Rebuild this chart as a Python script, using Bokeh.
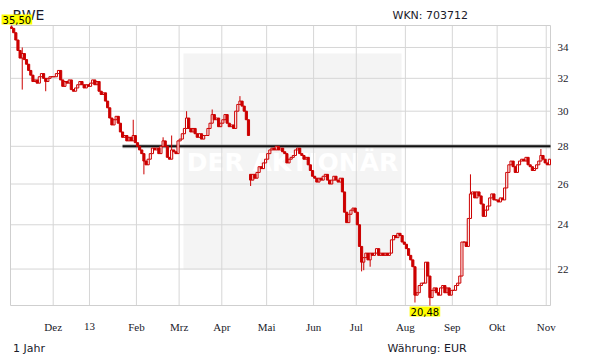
import math
import pandas as pd
from bokeh.plotting import figure
from bokeh.models import Range1d, Label, BoxAnnotation, ColumnDataSource
from bokeh.embed import file_html
from bokeh.resources import INLINE

# ---- data (daily closes, EUR) ----
close_nov12 = [35.3, 35.0, 34.5, 33.8, 33.3, 33.6, 33.2, 32.9, 32.5, 32.2,
               31.8, 31.9, 31.7, 32.1, 32.3, 32.0, 31.8, 32.0, 32.1, 32.1]
close_dec12 = [32.1, 32.3, 32.5, 31.9, 31.5, 31.8, 31.7, 31.9, 31.3, 31.2,
               31.4, 31.6, 31.8, 31.6, 31.4, 31.6, 31.5]
close_jan13 = [31.7, 31.9, 31.6, 31.8, 31.2, 31.0, 31.1, 30.6, 30.2, 29.6, 29.2,
               29.5, 29.7, 29.3, 28.8, 28.5, 28.6, 28.3, 28.5, 28.3, 28.6, 28.2]
close_feb13 = [28.0, 27.8, 27.6, 27.2, 27.0, 27.3, 27.6, 27.9, 27.8, 27.9,
               27.6, 28.0, 28.3, 28.0, 27.4, 27.3, 27.8, 27.7, 27.6, 28.3]
close_mar13 = [28.4, 28.7, 29.0, 29.6, 29.0, 28.8, 29.0, 28.7, 28.5, 28.7,
               28.4, 28.6, 28.6, 29.0, 29.3, 29.8, 29.5, 29.6, 29.1, 29.3]
close_apr13 = [29.5, 29.8, 29.3, 29.1, 29.2, 29.0, 30.0, 30.4, 30.6, 30.3, 30.0,
               29.5, 28.6, 26.2, 26.5, 26.3, 26.6, 26.9, 26.8, 27.1, 27.3]
close_may13 = [27.6, 27.8, 27.9, 27.8, 28.0, 27.8, 27.9, 27.7, 27.6, 27.1, 27.3,
               27.4, 27.5, 27.8, 27.9, 27.6, 27.5, 27.3, 27.4, 27.0, 26.7, 26.4]
close_jun13 = [26.3, 26.1, 26.3, 26.2, 26.4, 26.5, 26.2, 26.0, 26.2, 26.4,
               26.2, 26.1, 26.3, 25.6, 24.6, 24.1, 24.5, 24.7, 24.8, 24.6]
close_jul13 = [24.0, 23.0, 22.3, 22.5, 22.7, 22.4, 22.7, 22.6, 22.7, 22.9, 22.6, 22.7,
               22.6, 22.7, 22.6, 22.7, 23.3, 23.5, 23.4, 23.6, 23.5, 23.2, 23.1]
close_aug13 = [22.9, 22.6, 22.4, 22.1, 20.9, 21.0, 21.3, 21.4, 21.4, 22.3, 21.7,
               20.8, 21.1, 21.2, 21.0, 20.9, 21.2, 21.3, 21.0, 21.2, 20.9, 21.1]
close_sep13 = [21.1, 21.3, 21.4, 21.7, 23.2, 23.2, 23.0, 24.3, 25.5, 25.6, 25.3,
               25.6, 25.4, 25.0, 24.4, 24.7, 24.9, 25.3, 25.5, 25.2, 25.2]
close_oct13 = [25.1, 25.3, 25.2, 25.8, 26.6, 27.0, 27.2, 26.9, 26.6, 27.0, 27.2, 27.3,
               27.2, 27.4, 27.0, 26.9, 26.7, 26.8, 27.0, 27.2, 27.5, 27.3, 27.1]
close_nov13 = [27.0, 27.3]

first_open = 35.4
gap_open_idx = [112]          # ex-dividend gap (open not at previous close)
gap_open_val = [26.5]
spike_high_idx = [0, 5, 57, 71, 75, 82, 94, 107, 215, 248]
spike_high_val = [35.50, 34.0, 29.5, 28.5, 28.6, 30.0, 30.1, 30.9, 26.5, 27.85]
spike_low_idx = [5, 16, 62, 112, 164, 165, 168, 189, 196]
spike_low_val = [31.3, 31.2, 26.5, 25.9, 21.9, 21.95, 22.1, 20.6, 20.48]

month_labels = ["Dez", "13", "Feb", "Mrz", "Apr", "Mai", "Jun", "Jul",
                "Aug", "Sep", "Okt", "Nov"]
y_ticks = [22, 24, 26, 28, 30, 32, 34]
resistance_level = 28.0
resistance_start = 52
holidays = ["2012-12-24", "2012-12-25", "2012-12-26", "2012-12-31",
            "2013-01-01", "2013-03-29", "2013-04-01", "2013-05-01"]

# ---- build OHLC ----
closes = (close_nov12 + close_dec12 + close_jan13 + close_feb13 + close_mar13 +
          close_apr13 + close_may13 + close_jun13 + close_jul13 + close_aug13 +
          close_sep13 + close_oct13 + close_nov13)
days = pd.bdate_range("2012-11-05", "2013-11-04")
days = days[~days.isin(pd.to_datetime(holidays))]
n = len(closes)
idx = list(range(n))
opens = [first_open] + closes[:-1]
for i, v in zip(gap_open_idx, gap_open_val):
    opens[i] = v
highs = [max(o, c) for o, c in zip(opens, closes)]
lows = [min(o, c) for o, c in zip(opens, closes)]
for i, v in zip(spike_high_idx, spike_high_val):
    highs[i] = max(highs[i], v)
for i, v in zip(spike_low_idx, spike_low_val):
    lows[i] = min(lows[i], v)

top = [max(o, c) for o, c in zip(opens, closes)]
bot = [min(o, c) for o, c in zip(opens, closes)]
up = [c >= o for o, c in zip(opens, closes)]

RED = "#cc0000"
TXT = "#1a1a2a"
src_up = ColumnDataSource(dict(x=[i for i in idx if up[i]], top=[top[i] for i in idx if up[i]],
                               bot=[bot[i] for i in idx if up[i]]))
src_dn = ColumnDataSource(dict(x=[i for i in idx if not up[i]], top=[top[i] for i in idx if not up[i]],
                               bot=[bot[i] for i in idx if not up[i]]))
src_w = ColumnDataSource(dict(x=idx, lo=lows, hi=highs))

y_lo, y_hi = min(lows), max(highs)

# ---- layout: the chart area inside the 611x364 canvas ----
W, H = 611, 364
PL, PR, PT, PB = 10, 550, 25, 305
K = (PR - PL) / n
x_start = -0.5 - PL / K
x_end = n - 0.5 + (W - PR) / K
lspan = math.log(y_hi) - math.log(y_lo)
ppu = (PB - PT) / lspan
y_end = math.exp(math.log(y_hi) + PT / ppu)
y_start = math.exp(math.log(y_lo) - (H - PB) / ppu)

p = figure(width=W, height=H, x_range=Range1d(x_start, x_end),
           y_range=Range1d(y_start, y_end), y_axis_type="log",
           x_axis_location=None, y_axis_location=None,
           output_backend="svg", toolbar_location=None,
           min_border=0)
p.title.visible = False
p.background_fill_color = "white"
p.border_fill_color = "white"
p.outline_line_color = None
p.xgrid.visible = False
p.ygrid.visible = False

# month ticks at first trading day of each month
month_starts = [i for i in range(1, n) if days[i].month != days[i - 1].month]
x_ticks = [i - 0.5 for i in month_starts]

# watermark
p.add_layout(BoxAnnotation(left=183, right=401, bottom=H - 269, top=H - 53,
                           left_units="screen", right_units="screen",
                           top_units="screen", bottom_units="screen",
                           fill_color="#f4f4f4", fill_alpha=1.0, line_color=None,
                           level="underlay"))
p.add_layout(Label(x=292, y=H - 162, x_units="screen", y_units="screen", text="DER AKTIONÄR",
                   text_font="DejaVu Sans", text_font_style="bold", text_font_size="25px",
                   text_color="white", text_align="center", text_baseline="middle",
                   level="underlay"))

# grid + frame
GRID = "#d6d6d6"
p.segment(x0=x_ticks, x1=x_ticks, y0=[y_lo] * len(x_ticks), y1=[y_hi] * len(x_ticks),
          line_color=GRID, line_width=1)
p.segment(x0=[-0.5] * len(y_ticks), x1=[n - 0.5] * len(y_ticks), y0=y_ticks, y1=y_ticks,
          line_color=GRID, line_width=1)
p.quad(left=[-0.5], right=[n - 0.5], bottom=[y_lo], top=[y_hi],
       fill_color=None, line_color="#cfcfcf", line_width=1)

# tick labels
p.text(x=x_ticks, y=[y_lo] * len(x_ticks), text=month_labels, y_offset=21,
       text_align="center", text_baseline="alphabetic", text_font="DejaVu Sans",
       text_font_size="11px", text_color=TXT)
p.text(x=[n - 0.5] * len(y_ticks), y=y_ticks, text=[str(t) for t in y_ticks], x_offset=7,
       text_align="left", text_baseline="middle", text_font="DejaVu Sans",
       text_font_size="11px", text_color=TXT)

# resistance line
p.segment(x0=[resistance_start], x1=[n - 0.5], y0=[resistance_level], y1=[resistance_level],
          line_color="#9a9a9a", line_width=4, line_alpha=0.6)
p.segment(x0=[resistance_start], x1=[n - 0.5], y0=[resistance_level], y1=[resistance_level],
          line_color="#111111", line_width=2)

# candles
p.segment(x0="x", x1="x", y0="lo", y1="hi", source=src_w, line_color=RED, line_width=1)
p.vbar(x="x", top="top", bottom="bot", width=1.0, source=src_up,
       fill_color="white", line_color=RED, line_width=1)
p.vbar(x="x", top="top", bottom="bot", width=1.0, source=src_dn,
       fill_color=RED, line_color=RED, line_width=1)

# texts
p.add_layout(Label(x=12, y=H - 14, x_units="screen", y_units="screen", text="RWE",
                   text_font="DejaVu Sans", text_font_size="14px", text_color=TXT,
                   text_baseline="alphabetic"))
p.add_layout(Label(x=392, y=H - 15, x_units="screen", y_units="screen", text="WKN: 703712",
                   text_font="DejaVu Sans", text_font_size="11px", text_color=TXT,
                   text_baseline="alphabetic"))
p.add_layout(Label(x=12.5, y=H - 348, x_units="screen", y_units="screen", text="1 Jahr",
                   text_font="DejaVu Sans", text_font_size="11px", text_color=TXT,
                   text_baseline="alphabetic"))
p.add_layout(Label(x=387, y=H - 347.5, x_units="screen", y_units="screen", text="Währung: EUR",
                   text_font="DejaVu Sans", text_font_size="11px", text_color=TXT,
                   text_baseline="alphabetic"))

i_hi = highs.index(y_hi)
i_lo = lows.index(y_lo)
p.add_layout(Label(x=i_hi, y=y_hi, text=f"{y_hi:.2f}".replace(".", ","),
                   text_font="DejaVu Sans", text_font_size="10px", text_color="black",
                   text_align="left", text_baseline="bottom", x_offset=-10, y_offset=1,
                   background_fill_color="#ffff00", padding=1))
p.add_layout(Label(x=i_lo, y=y_lo, text=f"{y_lo:.2f}".replace(".", ","),
                   text_font="DejaVu Sans", text_font_size="10px", text_color="black",
                   text_align="center", text_baseline="top", x_offset=-5, y_offset=-1,
                   background_fill_color="#ffff00", padding=1))

open("out.html", "w").write(file_html(p, INLINE))
